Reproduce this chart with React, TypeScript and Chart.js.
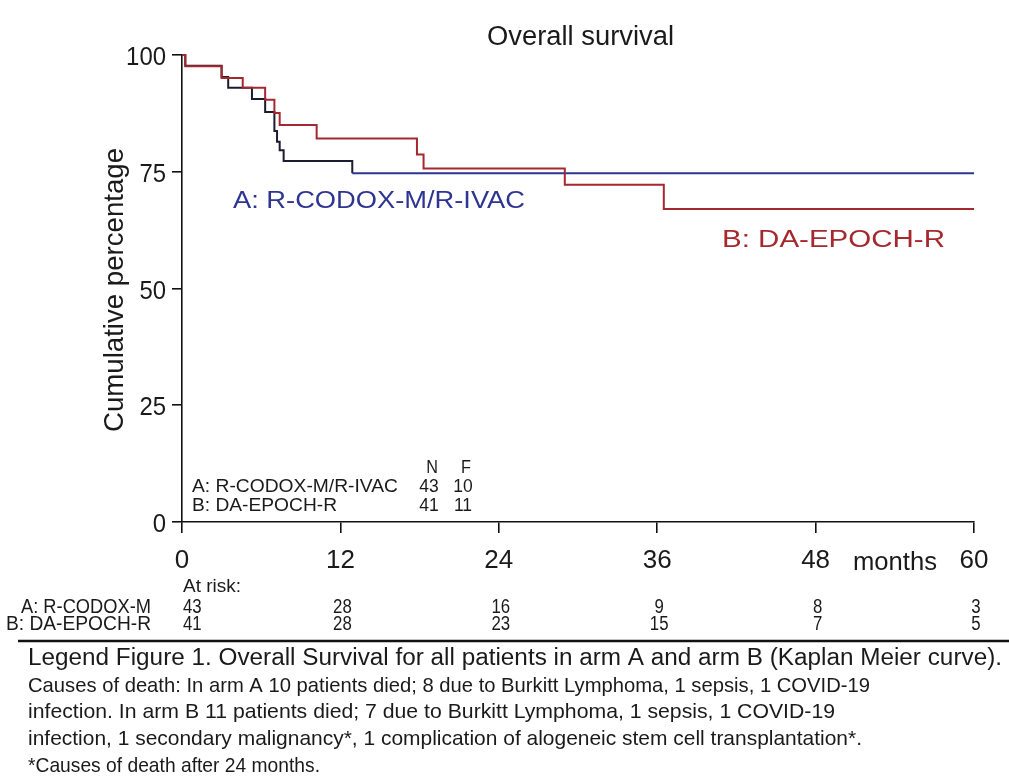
import { useEffect, useRef } from "react";
import { Chart, registerables } from "chart.js";

Chart.register(...registerables);

// Kaplan-Meier step points (months, % surviving) for each arm
const armATimes = [0, 0.25, 3.0, 3.5, 5.3, 6.3, 7.0, 7.2, 7.4, 7.7, 12.9, 60];
const armASurvival = [100, 97.7, 95.3, 93.0, 90.6, 87.8, 83.7, 81.4, 79.6, 77.3, 74.7, 74.7];
const armBTimes = [0, 0.25, 3.0, 4.6, 6.3, 7.0, 7.4, 10.2, 17.8, 18.3, 29.0, 36.5, 60];
const armBSurvival = [100, 97.6, 95.1, 93.0, 90.4, 87.6, 85.0, 82.1, 78.7, 75.7, 72.2, 67.0, 67.0];

// Axis ticks
const monthTicks = [0, 12, 24, 36, 48, 60];
const percentTicks = [0, 25, 50, 75, 100];

// Numbers at risk
const riskMonths = [0, 12, 24, 36, 48, 60];
const atRiskA = [43, 28, 16, 9, 8, 3];
const atRiskB = [41, 28, 23, 15, 7, 5];
const riskRowNames = ["A: R-CODOX-M", "B: DA-EPOCH-R"];

// Patients (N) and events (F) per arm
const armNames = ["A: R-CODOX-M/R-IVAC", "B: DA-EPOCH-R"];
const armN = [43, 41];
const armF = [10, 11];

const captionLines = [
  "Legend Figure 1. Overall Survival for all patients in arm A and arm B (Kaplan Meier curve).",
  "Causes of death: In arm A 10 patients died; 8 due to Burkitt Lymphoma, 1 sepsis, 1 COVID-19",
  "infection. In arm B 11 patients died; 7 due to Burkitt Lymphoma, 1 sepsis, 1 COVID-19",
  "infection, 1 secondary malignancy*, 1 complication of alogeneic stem cell transplantation*.",
  "*Causes of death after 24 months.",
];

const FONT = '"Liberation Sans", Arial, Helvetica, sans-serif';
const BLUE = "#2e3590";
const BLUE_DARK = "#1c1c30";
const RED = "#a5282e";
const INK = "#1a1a1a";

type TextOpts = {
  align?: "left" | "center" | "right";
  width?: number;
  sx?: number;
  color?: string;
};

function drawText(
  ctx: CanvasRenderingContext2D,
  s: string,
  x: number,
  y: number,
  size: number,
  opts: TextOpts = {}
) {
  ctx.save();
  ctx.font = `${size}px ${FONT}`;
  ctx.fillStyle = opts.color ?? INK;
  ctx.textBaseline = "alphabetic";
  ctx.textAlign = "left";
  const w = ctx.measureText(s).width;
  let sx = opts.sx ?? 1;
  if (opts.width) sx = opts.width / w;
  const dw = w * sx;
  let left = x;
  if (opts.align === "center") left = x - dw / 2;
  else if (opts.align === "right") left = x - dw;
  ctx.translate(left, y);
  ctx.scale(sx, 1);
  ctx.fillText(s, 0, 0);
  ctx.restore();
}

const annotationPlugin = {
  id: "kmAnnotations",
  afterDraw(chart: any) {
    const ctx: CanvasRenderingContext2D = chart.ctx;
    const xs = chart.scales.x;
    const ys = chart.scales.y;

    // title
    drawText(ctx, "Overall survival", 487, 45, 27, { width: 187 });

    // y tick labels
    percentTicks.forEach((v) => {
      drawText(ctx, String(v), 166, ys.getPixelForValue(v) + 10, 26, { align: "right", sx: 0.92 });
    });

    // x tick labels
    monthTicks.forEach((v) => {
      drawText(ctx, String(v), xs.getPixelForValue(v), 568, 25, { align: "center", sx: 1.04 });
    });
    drawText(ctx, "months", 853, 570, 26, { width: 84 });

    // y axis title
    ctx.save();
    ctx.translate(123, 290);
    ctx.rotate(-Math.PI / 2);
    drawText(ctx, "Cumulative percentage", 0, 0, 28, { align: "center", width: 284 });
    ctx.restore();

    // curve labels
    drawText(ctx, armNames[0], 233, 208, 23, { width: 292, color: BLUE });
    drawText(ctx, armNames[1], 722, 247, 23, { width: 223, color: RED });

    // N / F table
    const nX = 429;
    const fX = 463;
    drawText(ctx, "N", nX + 3, 473, 18, { align: "center", sx: 0.9 });
    drawText(ctx, "F", fX + 3, 473, 18, { align: "center", sx: 0.9 });
    const nameWidths = [206, 145];
    [492, 511].forEach((by, i) => {
      drawText(ctx, armNames[i], 192, by, 19, { width: nameWidths[i] });
      drawText(ctx, String(armN[i]), nX, by, 19, { align: "center", sx: 0.92 });
      drawText(ctx, String(armF[i]), fX, by, 19, { align: "center", sx: 0.92 });
    });

    // numbers at risk
    drawText(ctx, "At risk:", 183, 592, 19, { width: 58 });
    const riskRows = [atRiskA, atRiskB];
    const rowNameWidths = [130, 145];
    [613, 630].forEach((by, r) => {
      drawText(ctx, riskRowNames[r], 151, by, 20, { align: "right", width: rowNameWidths[r] });
      riskMonths.forEach((m, i) => {
        const val = String(riskRows[r][i]);
        if (i === 0) {
          drawText(ctx, val, xs.getPixelForValue(m) + 1, by, 20, { sx: 0.84 });
        } else {
          drawText(ctx, val, xs.getPixelForValue(m) + 2, by, 20, { align: "center", sx: 0.84 });
        }
      });
    });

    // separator rule
    ctx.save();
    ctx.strokeStyle = "#111";
    ctx.lineWidth = 2.5;
    ctx.beginPath();
    ctx.moveTo(18, 641);
    ctx.lineTo(1009, 641);
    ctx.stroke();
    ctx.restore();

    // caption
    const capY = [665, 692, 718, 745, 772];
    const capW = [974, 842, 807, 834, 292];
    captionLines.forEach((line, i) => {
      drawText(ctx, line, 28, capY[i], i === 0 ? 23 : 21, { width: capW[i] });
    });
  },
};

export default function App() {
  const canvasRef = useRef<HTMLCanvasElement | null>(null);

  useEffect(() => {
    const canvas = canvasRef.current;
    if (!canvas) return;

    const armA = armATimes.map((t, i) => ({ x: t, y: armASurvival[i] }));
    const armB = armBTimes.map((t, i) => ({ x: t, y: armBSurvival[i] }));

    const chart = new Chart(canvas, {
      type: "line",
      data: {
        datasets: [
          {
            label: armNames[1],
            data: armB,
            borderColor: RED,
            borderWidth: 2,
            pointRadius: 0,
            stepped: "before",
            fill: false,
            clip: 6,
          },
          {
            label: armNames[0],
            data: armA,
            borderColor: BLUE,
            borderWidth: 2,
            pointRadius: 0,
            stepped: "before",
            fill: false,
            clip: 6,
            segment: {
              borderColor: (c: any) => (c.p1.parsed.x <= 12.9 ? BLUE_DARK : BLUE),
            },
          },
        ],
      },
      options: {
        responsive: false,
        animation: false,
        devicePixelRatio: 1,
        layout: { padding: { left: 170, right: 35, top: 55, bottom: 245 } },
        plugins: {
          legend: { display: false },
          tooltip: { enabled: false },
          title: { display: false },
        },
        scales: {
          x: {
            type: "linear",
            min: 0,
            max: 60,
            afterBuildTicks: (s: any) => {
              s.ticks = monthTicks.map((v) => ({ value: v }));
            },
            afterFit: (s: any) => {
              s.height = 12;
            },
            ticks: { display: false },
            grid: {
              drawOnChartArea: false,
              drawTicks: true,
              tickLength: 11,
              color: "#111",
              lineWidth: 1.6,
            },
            border: { display: true, color: "#111", width: 1.6 },
          },
          y: {
            type: "linear",
            min: 0,
            max: 100,
            afterBuildTicks: (s: any) => {
              s.ticks = percentTicks.map((v) => ({ value: v }));
            },
            afterFit: (s: any) => {
              s.width = 12;
            },
            ticks: { display: false },
            grid: {
              drawOnChartArea: false,
              drawTicks: true,
              tickLength: 10,
              color: "#111",
              lineWidth: 1.6,
            },
            border: { display: true, color: "#111", width: 1.6 },
          },
        },
      },
      plugins: [annotationPlugin],
    });

    return () => chart.destroy();
  }, []);

  return (
    <div style={{ position: "fixed", left: 0, top: 0, width: 1009, height: 779, background: "#fff" }}>
      <canvas ref={canvasRef} width={1009} height={779} style={{ display: "block" }} />
    </div>
  );
}
